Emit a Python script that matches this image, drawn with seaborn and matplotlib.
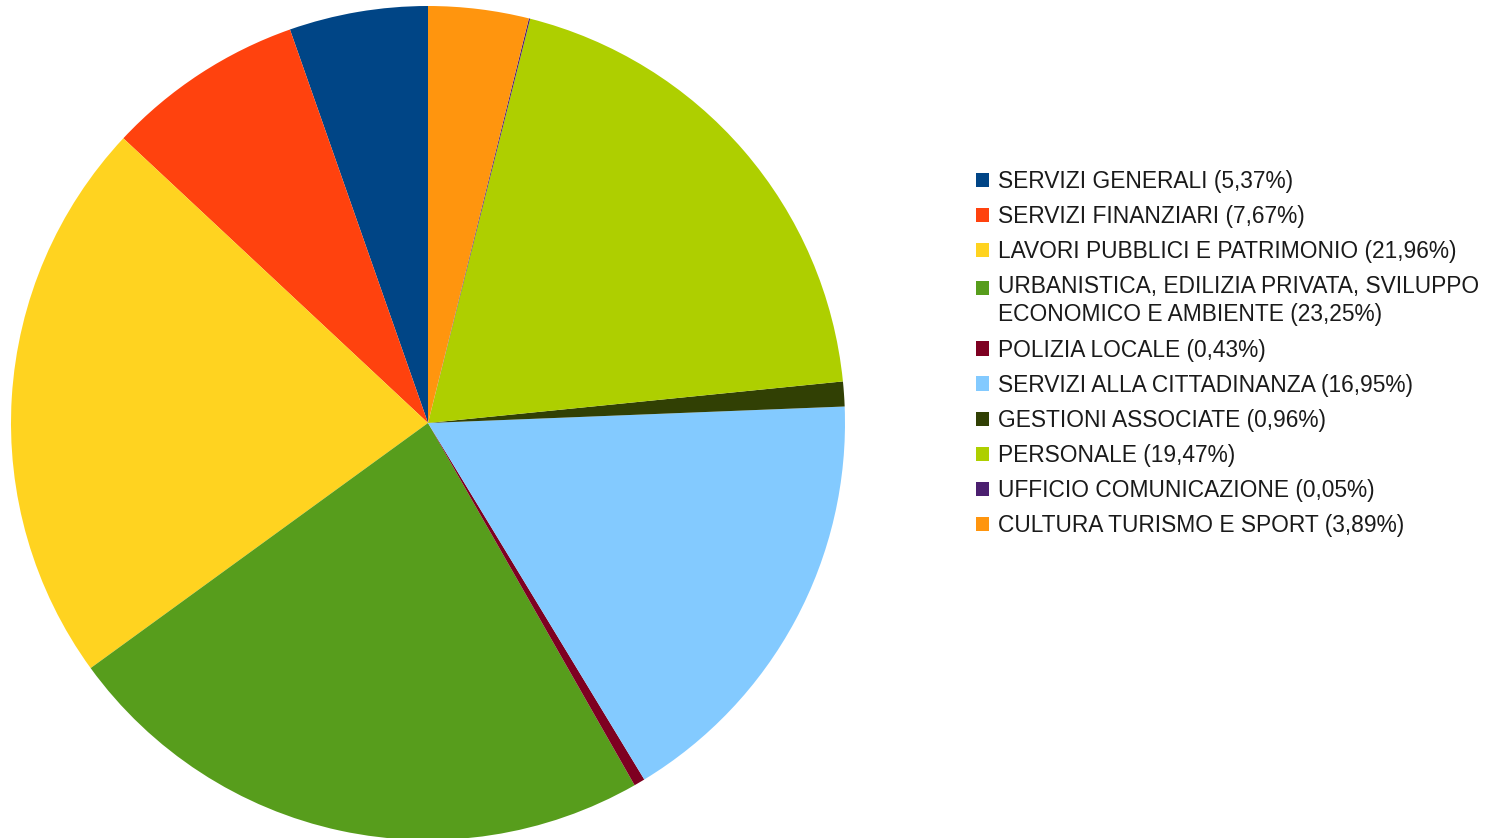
import matplotlib
matplotlib.use("Agg")
import matplotlib.pyplot as plt
import seaborn as sns
from matplotlib.patches import Patch, Rectangle
from matplotlib.legend_handler import HandlerPatch

# dati (percentuali)
settori = [
    "SERVIZI GENERALI (5,37%)",
    "SERVIZI FINANZIARI (7,67%)",
    "LAVORI PUBBLICI E PATRIMONIO (21,96%)",
    "URBANISTICA, EDILIZIA PRIVATA, SVILUPPO\nECONOMICO E AMBIENTE (23,25%)",
    "POLIZIA LOCALE (0,43%)",
    "SERVIZI ALLA CITTADINANZA (16,95%)",
    "GESTIONI ASSOCIATE (0,96%)",
    "PERSONALE (19,47%)",
    "UFFICIO COMUNICAZIONE (0,05%)",
    "CULTURA TURISMO E SPORT (3,89%)",
]
percentuali = [5.37, 7.67, 21.96, 23.25, 0.43, 16.95, 0.96, 19.47, 0.05, 3.89]
colori = ["#004586", "#ff420e", "#ffd320", "#579d1c", "#7e0021",
          "#83caff", "#314004", "#aecf00", "#4b1f6f", "#ff950e"]

sns.set_style("white")
plt.rcParams["font.family"] = ["Liberation Sans", "DejaVu Sans"]
palette = sns.color_palette(colori)

fig = plt.figure(figsize=(14.9, 8.38), dpi=100)
ax = fig.add_axes([11 / 1490, -2 / 838, 834 / 1490, 834 / 838])
ax.pie(percentuali, colors=palette, startangle=90, counterclock=True,
       radius=1, wedgeprops={"linewidth": 0})
ax.set_xlim(-1, 1)
ax.set_ylim(-1, 1)
ax.set_aspect("equal")
ax.axis("off")


def quadrato_in_alto(legend, orig_handle, xdescent, ydescent, width, height,
                     fontsize):
    # per le voci su due righe il quadratino sta all'altezza della prima riga
    return Rectangle((-xdescent, -ydescent + 10), width, height)


handles = [Patch(facecolor=c, edgecolor="none") for c in palette]
mappa = {h: HandlerPatch(patch_func=quadrato_in_alto)
         for h, s in zip(handles, settori) if "\n" in s}
leg = fig.legend(handles, settori, loc="upper left",
                 bbox_to_anchor=(976 / 1490, 1 - 170 / 838),
                 frameon=False, fontsize=16.4, handlelength=0.58,
                 handleheight=0.58, handletextpad=0.38, labelspacing=0.53,
                 borderpad=0, borderaxespad=0, handler_map=mappa)
for t in leg.get_texts():
    t.set_linespacing(1.29)
    t.set_color("#1a1a1a")

plt.savefig("out.png", dpi=100)
